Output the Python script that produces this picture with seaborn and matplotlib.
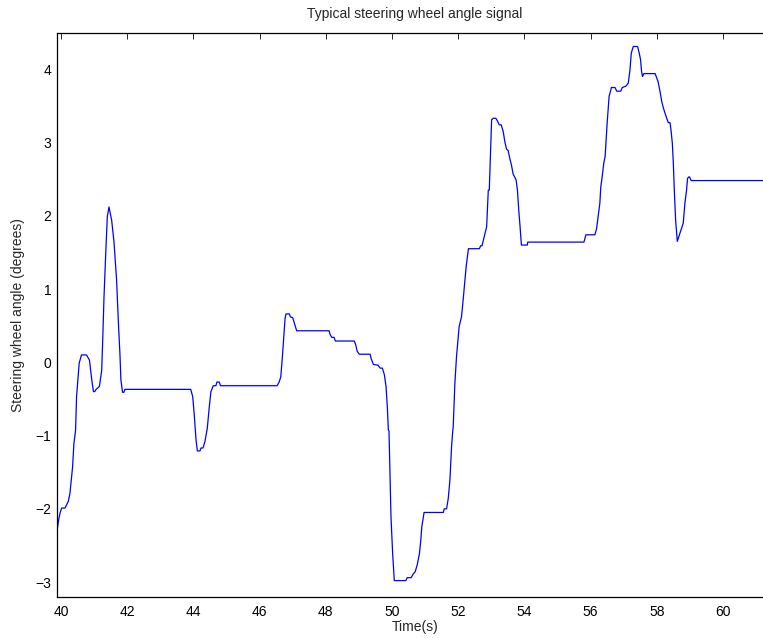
import numpy as np
import pandas as pd
import matplotlib
matplotlib.use("Agg")
import matplotlib.pyplot as plt
import seaborn as sns

# Steering wheel angle trace (time in s, angle in degrees)
time_s = [
    39.87, 39.93, 39.97, 40.02, 40.12, 40.22, 40.27, 40.35, 40.39, 40.44,
    40.47, 40.55, 40.62, 40.77, 40.86, 40.93, 40.98, 41.02, 41.06, 41.16,
    41.23, 41.26, 41.30, 41.36, 41.40, 41.45, 41.53, 41.60, 41.68, 41.73,
    41.78, 41.81, 41.86, 41.90, 41.93, 43.92, 43.98, 44.03, 44.08, 44.12,
    44.20, 44.23, 44.29, 44.35, 44.42, 44.48, 44.53, 44.60, 44.68, 44.71,
    44.78, 44.82, 46.53, 46.59, 46.64, 46.69, 46.74, 46.77, 46.80, 46.90,
    46.93, 47.00, 47.04, 47.12, 48.10, 48.13, 48.18, 48.25, 48.29, 48.86,
    48.90, 48.95, 49.01, 49.34, 49.37, 49.44, 49.58, 49.64, 49.71, 49.77,
    49.82, 49.86, 49.89, 49.91, 49.94, 49.97, 50.02, 50.07, 50.42, 50.46,
    50.58, 50.64, 50.70, 50.76, 50.83, 50.87, 50.90, 50.97, 51.55, 51.58,
    51.65, 51.70, 51.75, 51.80, 51.83, 51.85, 51.90, 51.95, 52.03, 52.10,
    52.15, 52.24, 52.31, 52.64, 52.68, 52.72, 52.81, 52.86, 52.91, 52.94,
    52.98, 53.01, 53.06, 53.14, 53.19, 53.24, 53.30, 53.36, 53.41, 53.46,
    53.51, 53.56, 53.61, 53.66, 53.75, 53.79, 53.83, 53.87, 53.91, 54.09,
    54.10, 55.80, 55.86, 56.13, 56.18, 56.23, 56.28, 56.31, 56.35, 56.40,
    56.44, 56.50, 56.56, 56.63, 56.74, 56.79, 56.91, 56.96, 57.07, 57.14,
    57.19, 57.23, 57.29, 57.42, 57.47, 57.51, 57.54, 57.57, 57.61, 57.95,
    57.99, 58.04, 58.10, 58.15, 58.20, 58.25, 58.30, 58.35, 58.40, 58.43,
    58.47, 58.50, 58.53, 58.57, 58.62, 58.70, 58.80, 58.85, 58.90, 58.93,
    58.97, 58.99, 59.04, 61.50,
]
angle_deg = [
    -2.33, -2.15, -2.06, -1.99, -1.99, -1.90, -1.79, -1.43, -1.11, -0.93,
    -0.47, -0.01, 0.10, 0.10, 0.03, -0.24, -0.40, -0.40, -0.37, -0.33,
    -0.11, 0.30, 0.90, 1.58, 1.99, 2.12, 1.94, 1.65, 1.12, 0.58,
    0.12, -0.24, -0.41, -0.41, -0.37, -0.37, -0.47, -0.74, -1.06, -1.21,
    -1.21, -1.17, -1.17, -1.08, -0.90, -0.61, -0.40, -0.32, -0.32, -0.27,
    -0.27, -0.32, -0.32, -0.27, -0.20, 0.08, 0.40, 0.60, 0.66, 0.66,
    0.62, 0.61, 0.55, 0.43, 0.43, 0.38, 0.34, 0.34, 0.29, 0.29,
    0.245, 0.15, 0.11, 0.11, 0.05, -0.03, -0.04, -0.08, -0.08, -0.17,
    -0.33, -0.61, -0.92, -0.94, -1.50, -2.11, -2.61, -2.98, -2.98, -2.94,
    -2.94, -2.89, -2.86, -2.77, -2.61, -2.43, -2.25, -2.05, -2.05, -2.00,
    -2.00, -1.86, -1.61, -1.15, -0.97, -0.88, -0.29, 0.08, 0.49, 0.62,
    0.85, 1.30, 1.55, 1.55, 1.59, 1.59, 1.76, 1.85, 2.35, 2.35,
    2.90, 3.31, 3.33, 3.33, 3.29, 3.24, 3.24, 3.15, 3.01, 2.91,
    2.89, 2.78, 2.69, 2.57, 2.49, 2.35, 2.08, 1.85, 1.60, 1.60,
    1.64, 1.64, 1.74, 1.74, 1.82, 1.99, 2.17, 2.40, 2.53, 2.72,
    2.81, 3.26, 3.63, 3.75, 3.75, 3.70, 3.70, 3.75, 3.77, 3.81,
    3.99, 4.22, 4.31, 4.31, 4.22, 4.13, 3.97, 3.90, 3.94, 3.94,
    3.89, 3.83, 3.69, 3.56, 3.47, 3.40, 3.33, 3.27, 3.27, 3.17,
    2.99, 2.72, 2.35, 1.94, 1.65, 1.76, 1.90, 2.17, 2.35, 2.51,
    2.53, 2.53, 2.48, 2.48,
]
x_ticks = [40, 42, 44, 46, 48, 50, 52, 54, 56, 58, 60]
y_ticks = [-3, -2, -1, 0, 1, 2, 3, 4]

df = pd.DataFrame({"Time(s)": time_s, "angle": angle_deg})

sns.set_style("white")
plt.rcParams["font.family"] = ["Liberation Sans", "DejaVu Sans"]
plt.rcParams["axes.unicode_minus"] = True

fig = plt.figure(figsize=(7.63, 6.38), dpi=100)
# axes box; the right edge runs slightly past the canvas
ax = fig.add_axes([0.0743, 0.0647, 0.9383, 0.8831])

sns.lineplot(data=df, x="Time(s)", y="angle", ax=ax, color="#0000ff",
             linewidth=0.9, estimator=None, sort=False)

ax.set_xlim(39.87, 61.50)
ax.set_ylim(-3.20, 4.49)
ax.set_xticks(x_ticks)
ax.set_yticks(y_ticks)
ax.tick_params(axis="both", direction="in", length=4, width=0.6,
               labelsize=10, colors="black", top=True, right=True)
ax.tick_params(axis="x", pad=6)
ax.tick_params(axis="y", pad=4)
for sp in ax.spines.values():
    sp.set_visible(True)
    sp.set_color("black")
    sp.set_linewidth(0.9)

ax.set_title("Typical steering wheel angle signal", fontsize=10, pad=11)
ax.set_xlabel("Time(s)", fontsize=10, labelpad=1)
ax.set_ylabel("Steering wheel angle (degrees)", fontsize=10, labelpad=7)

fig.savefig("out.png", dpi=100)
